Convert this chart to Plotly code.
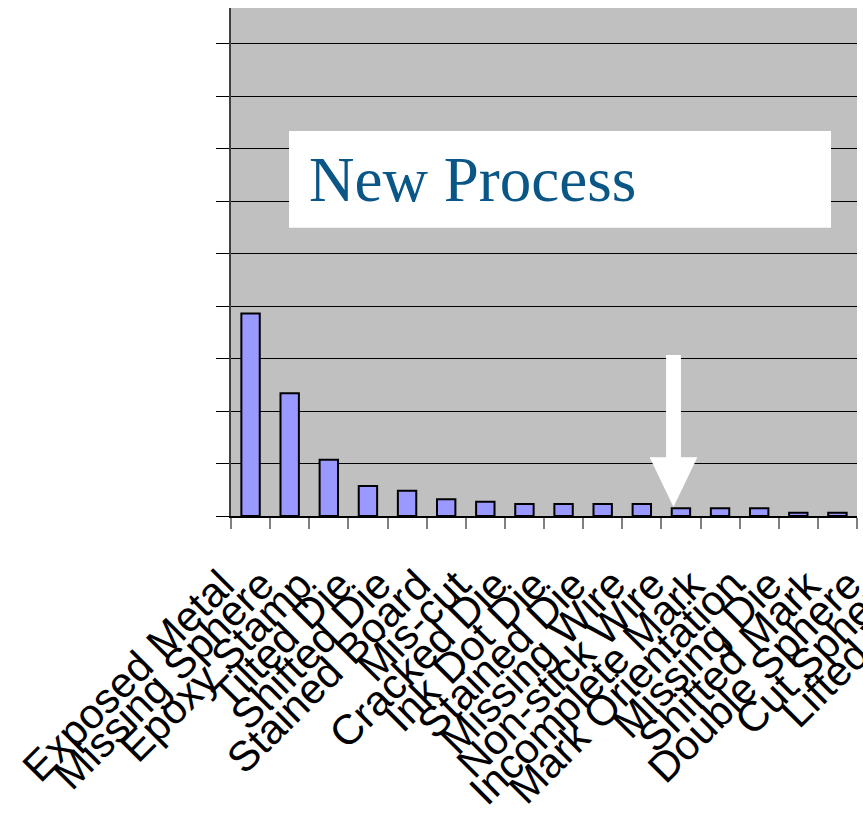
import plotly.graph_objects as go

# Defect categories (Pareto order) and their share of rejects
defects = [
    "Exposed Metal", "Missing Sphere", "Epoxy Stamp", "Tilted Die",
    "Shifted Die", "Stained Board", "Mis-cut", "Cracked Die",
    "Ink Dot Die", "Stained Die", "Missing Wire", "Non-stick Wire",
    "Incomplete Mark", "Mark Orientation", "Missing Die", "Shifted Mark",
    "Double Sphere", "Cut Sphere", "Lifted Wire",
]
counts = [38.6, 23.4, 10.7, 5.7, 4.8, 3.2, 2.7, 2.3,
          2.3, 2.3, 2.3, 1.5, 1.5, 1.5, 0.6, 0.6]

title_text = "New Process"

n_shown = len(counts)
x_range = [-0.5, n_shown - 0.5]
y_range = [0, 96.8]

fig = go.Figure()
fig.add_trace(go.Bar(
    x=defects[:n_shown],
    y=counts,
    marker=dict(color="#9999FF", line=dict(color="black", width=2)),
    width=0.47,
    showlegend=False,
))

# Rotated category labels, each ending at the left boundary of its slot
for i, name in enumerate(defects):
    fig.add_annotation(
        text=name, xref="paper", yref="paper",
        x=(i - 0.5 - x_range[0]) / (x_range[1] - x_range[0]) + 0.024,
        y=-0.082,
        xanchor="right", yanchor="top", textangle=-45, showarrow=False,
        font=dict(family="Liberation Sans, Arial, sans-serif", size=42, color="black"),
    )

# White call-out box with the heading
fig.add_shape(type="rect", xref="paper", yref="paper",
              x0=0.0927, x1=0.9585, y0=0.5675, y1=0.7579,
              fillcolor="white", line=dict(width=0), layer="above")
fig.add_annotation(
    text=title_text, xref="paper", yref="paper", x=0.122, y=0.661,
    xanchor="left", yanchor="middle", showarrow=False,
    font=dict(family="Liberation Serif, Times New Roman, serif", size=63, color="#0A5787"),
)

# White arrow pointing down at the Non-stick Wire bar
ax_c, shaft_hw, head_hw = 10.81, 0.19, 0.61
y_top, y_head, y_tip = 30.7, 11.2, 1.7
arrow_path = (
    f"M {ax_c - shaft_hw} {y_top} L {ax_c + shaft_hw} {y_top} "
    f"L {ax_c + shaft_hw} {y_head} L {ax_c + head_hw} {y_head} "
    f"L {ax_c} {y_tip} L {ax_c - head_hw} {y_head} "
    f"L {ax_c - shaft_hw} {y_head} Z"
)
fig.add_shape(type="path", xref="x", yref="y", path=arrow_path,
              fillcolor="white", line=dict(width=0), layer="above")

fig.update_xaxes(
    range=x_range, showticklabels=False, tickson="boundaries",
    ticks="outside", ticklen=11, tickwidth=2, tickcolor="#808080",
    showline=True, linecolor="black", linewidth=2, showgrid=False,
    fixedrange=True,
)
fig.update_yaxes(
    range=y_range, dtick=10, showticklabels=False,
    ticks="outside", ticklen=13, tickwidth=1, tickcolor="black",
    showgrid=True, gridcolor="black", gridwidth=1, zeroline=False,
    showline=True, linecolor="#404040", linewidth=2,
)

fig.update_layout(
    width=863, height=837,
    margin=dict(l=231, r=6, t=8, b=321),
    plot_bgcolor="#C0C0C0", paper_bgcolor="white",
    bargap=0.53,
)

fig.write_html("out.html")
